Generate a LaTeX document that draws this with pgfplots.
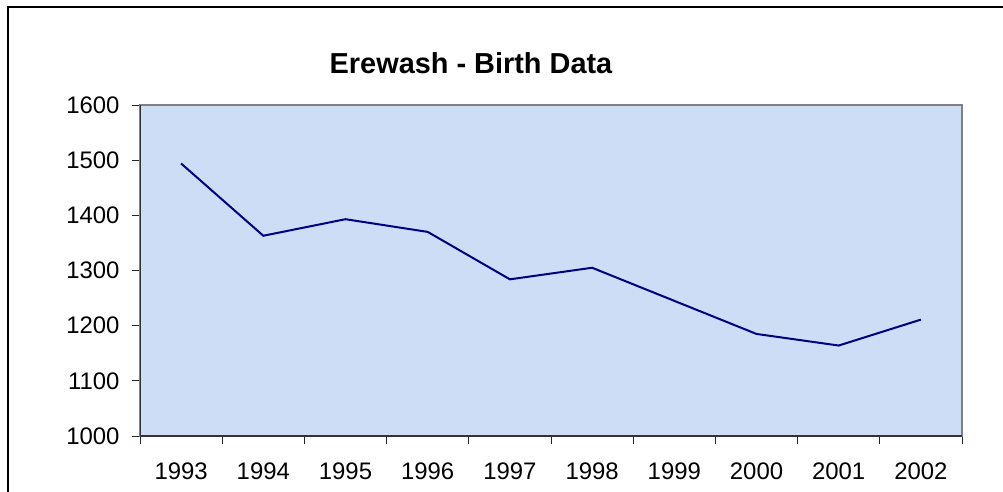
\documentclass[border=0pt]{standalone}
\usepackage{pgfplots}
\pgfplotsset{compat=1.18}
\usepackage{fontspec}
\setmainfont{Liberation Sans}

\definecolor{plotbg}{RGB}{206,221,246}
\definecolor{navyline}{RGB}{0,0,128}

\begin{document}
\begin{tikzpicture}
\useasboundingbox (0,0) rectangle (1003bp,-492bp);
\fill[white] (0,0) rectangle (1003bp,-492bp);
\draw[line width=2bp] (8bp,-492bp) -- (8bp,-7bp) -- (1003bp,-7bp);
\node[anchor=base, font=\fontsize{29}{33}\selectfont\bfseries] at (471bp,-73.5bp) {Erewash - Birth Data};
\begin{axis}[
  at={(140bp,-436bp)}, anchor=south west,
  scale only axis, width=822bp, height=331bp,
  xmin=0.5, xmax=10.5, ymin=1000, ymax=1600,
  xtick={1,...,10},
  xticklabels={1993,1994,1995,1996,1997,1998,1999,2000,2001,2002},
  minor xtick={0.5,1.5,...,10.5},
  ytick={1000,1100,...,1600},
  tick align=outside, xtick pos=bottom, ytick pos=left,
  major tick length=8bp, minor tick length=8bp,
  major x tick style={draw=none},
  tick style={black!85, line width=1bp},
  minor tick style={black!85, line width=1bp},
  /pgf/number format/assume math mode=true,
  /pgf/number format/1000 sep={},
  tick label style={font=\fontsize{24}{28}\selectfont},
  xticklabel style={yshift=-15bp},
  yticklabel style={xshift=-9bp},
  axis background/.style={fill=plotbg},
  axis line style={draw=gray, line width=1.5bp},
]
\addplot[navyline, line width=2bp] coordinates {
  (1,1494) (2,1363) (3,1393) (4,1370) (5,1284)
  (6,1305) (7,1245) (8,1185) (9,1164) (10,1211)
};
\draw[black!80, line width=1.5bp] (rel axis cs:0,1) -- (rel axis cs:0,0) -- (rel axis cs:1,0);
\end{axis}
\end{tikzpicture}
\end{document}
